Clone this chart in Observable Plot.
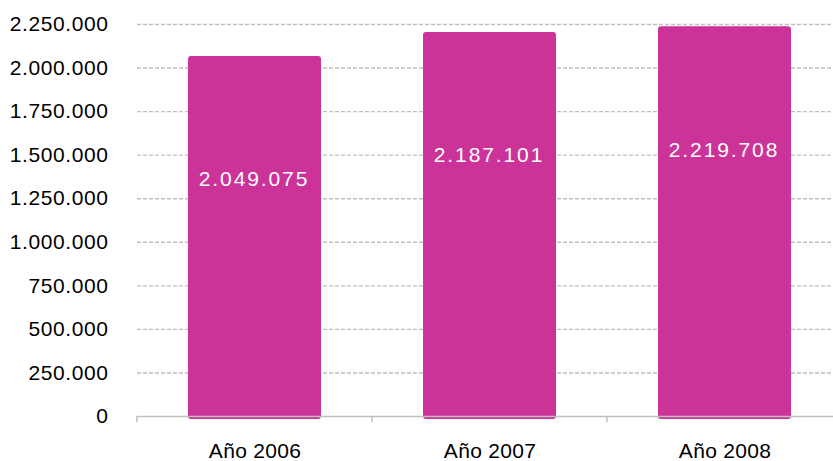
<!DOCTYPE html>
<html>
<head>
<meta charset="utf-8">
<script src="https://cdn.jsdelivr.net/npm/d3@7"></script>
<script src="https://cdn.jsdelivr.net/npm/@observablehq/plot@0.6"></script>
<style>
  html, body { margin: 0; padding: 0; background: #fff; }
  svg { display: block; }
  g[aria-label="text"] text { letter-spacing: 1.9px; }
  g[aria-label="y-axis tick label"] text { letter-spacing: 0.6px; }
  g[aria-label="x-axis tick label"] text { letter-spacing: 0.3px; }
</style>
</head>
<body>
<div id="chart"></div>
<script>
const categories = ["Año 2006", "Año 2007", "Año 2008"];
const values = [2049075, 2187101, 2219708];
const yTicks = [0, 250000, 500000, 750000, 1000000, 1250000, 1500000, 1750000, 2000000, 2250000];

const data = categories.map((c, i) => ({category: c, value: values[i]}));
const es = d3.formatLocale({decimal: ",", thousands: ".", grouping: [3], currency: ["", " €"]});
const fmt = es.format(",d");

const barColor = "#CC3399";
const gridColor = "#BFBFBF";
const padInner = 0.46;

const boundaryTicks = (index, scales, values, dimensions) => {
  const x = scales.x;
  const step = x(categories[1]) - x(categories[0]);
  const bw = step * (1 - padInner);
  const xs = categories.map(c => x(c) - step * padInner / 2);
  xs.push(x(categories[categories.length - 1]) + bw + step * padInner / 2);
  const y0 = dimensions.height - dimensions.marginBottom;
  const g = d3.create("svg:g");
  for (const xv of xs) {
    g.append("line").attr("x1", xv).attr("x2", xv).attr("y1", y0).attr("y2", y0 + 6)
      .attr("stroke", gridColor).attr("stroke-width", 1.5);
  }
  return g.node();
};

const chart = Plot.plot({
  width: 833,
  height: 461,
  marginTop: 24,
  marginBottom: 45,
  marginLeft: 137,
  marginRight: 0,
  style: {fontFamily: "'Liberation Sans', Arial, sans-serif", fontSize: "21px", color: "#000", background: "#fff"},
  x: {domain: categories, range: [137, 842], paddingInner: padInner, paddingOuter: padInner / 2, label: null},
  y: {domain: [0, 2250000], label: null},
  marks: [
    Plot.ruleY(yTicks.filter(d => d > 0), {stroke: gridColor, strokeWidth: 1.4, strokeDasharray: "4,2"}),
    Plot.barY(data, {x: "category", y: "value", fill: barColor, stroke: barColor, strokeWidth: 6, strokeLinejoin: "round"}),
    Plot.ruleY([0], {stroke: gridColor, strokeWidth: 1.5}),
    boundaryTicks,
    Plot.text(data, {x: "category", y: "value", text: d => fmt(d.value), fill: "white", fontSize: 21, dy: 120, dx: -1}),
    Plot.axisY({ticks: yTicks, tickFormat: fmt, tickSize: 0, tickPadding: 29, fontSize: 21, label: null}),
    Plot.axisX({tickSize: 0, tickPadding: 27, fontSize: 21, label: null})
  ]
});
document.getElementById("chart").appendChild(chart);
</script>
</body>
</html>
